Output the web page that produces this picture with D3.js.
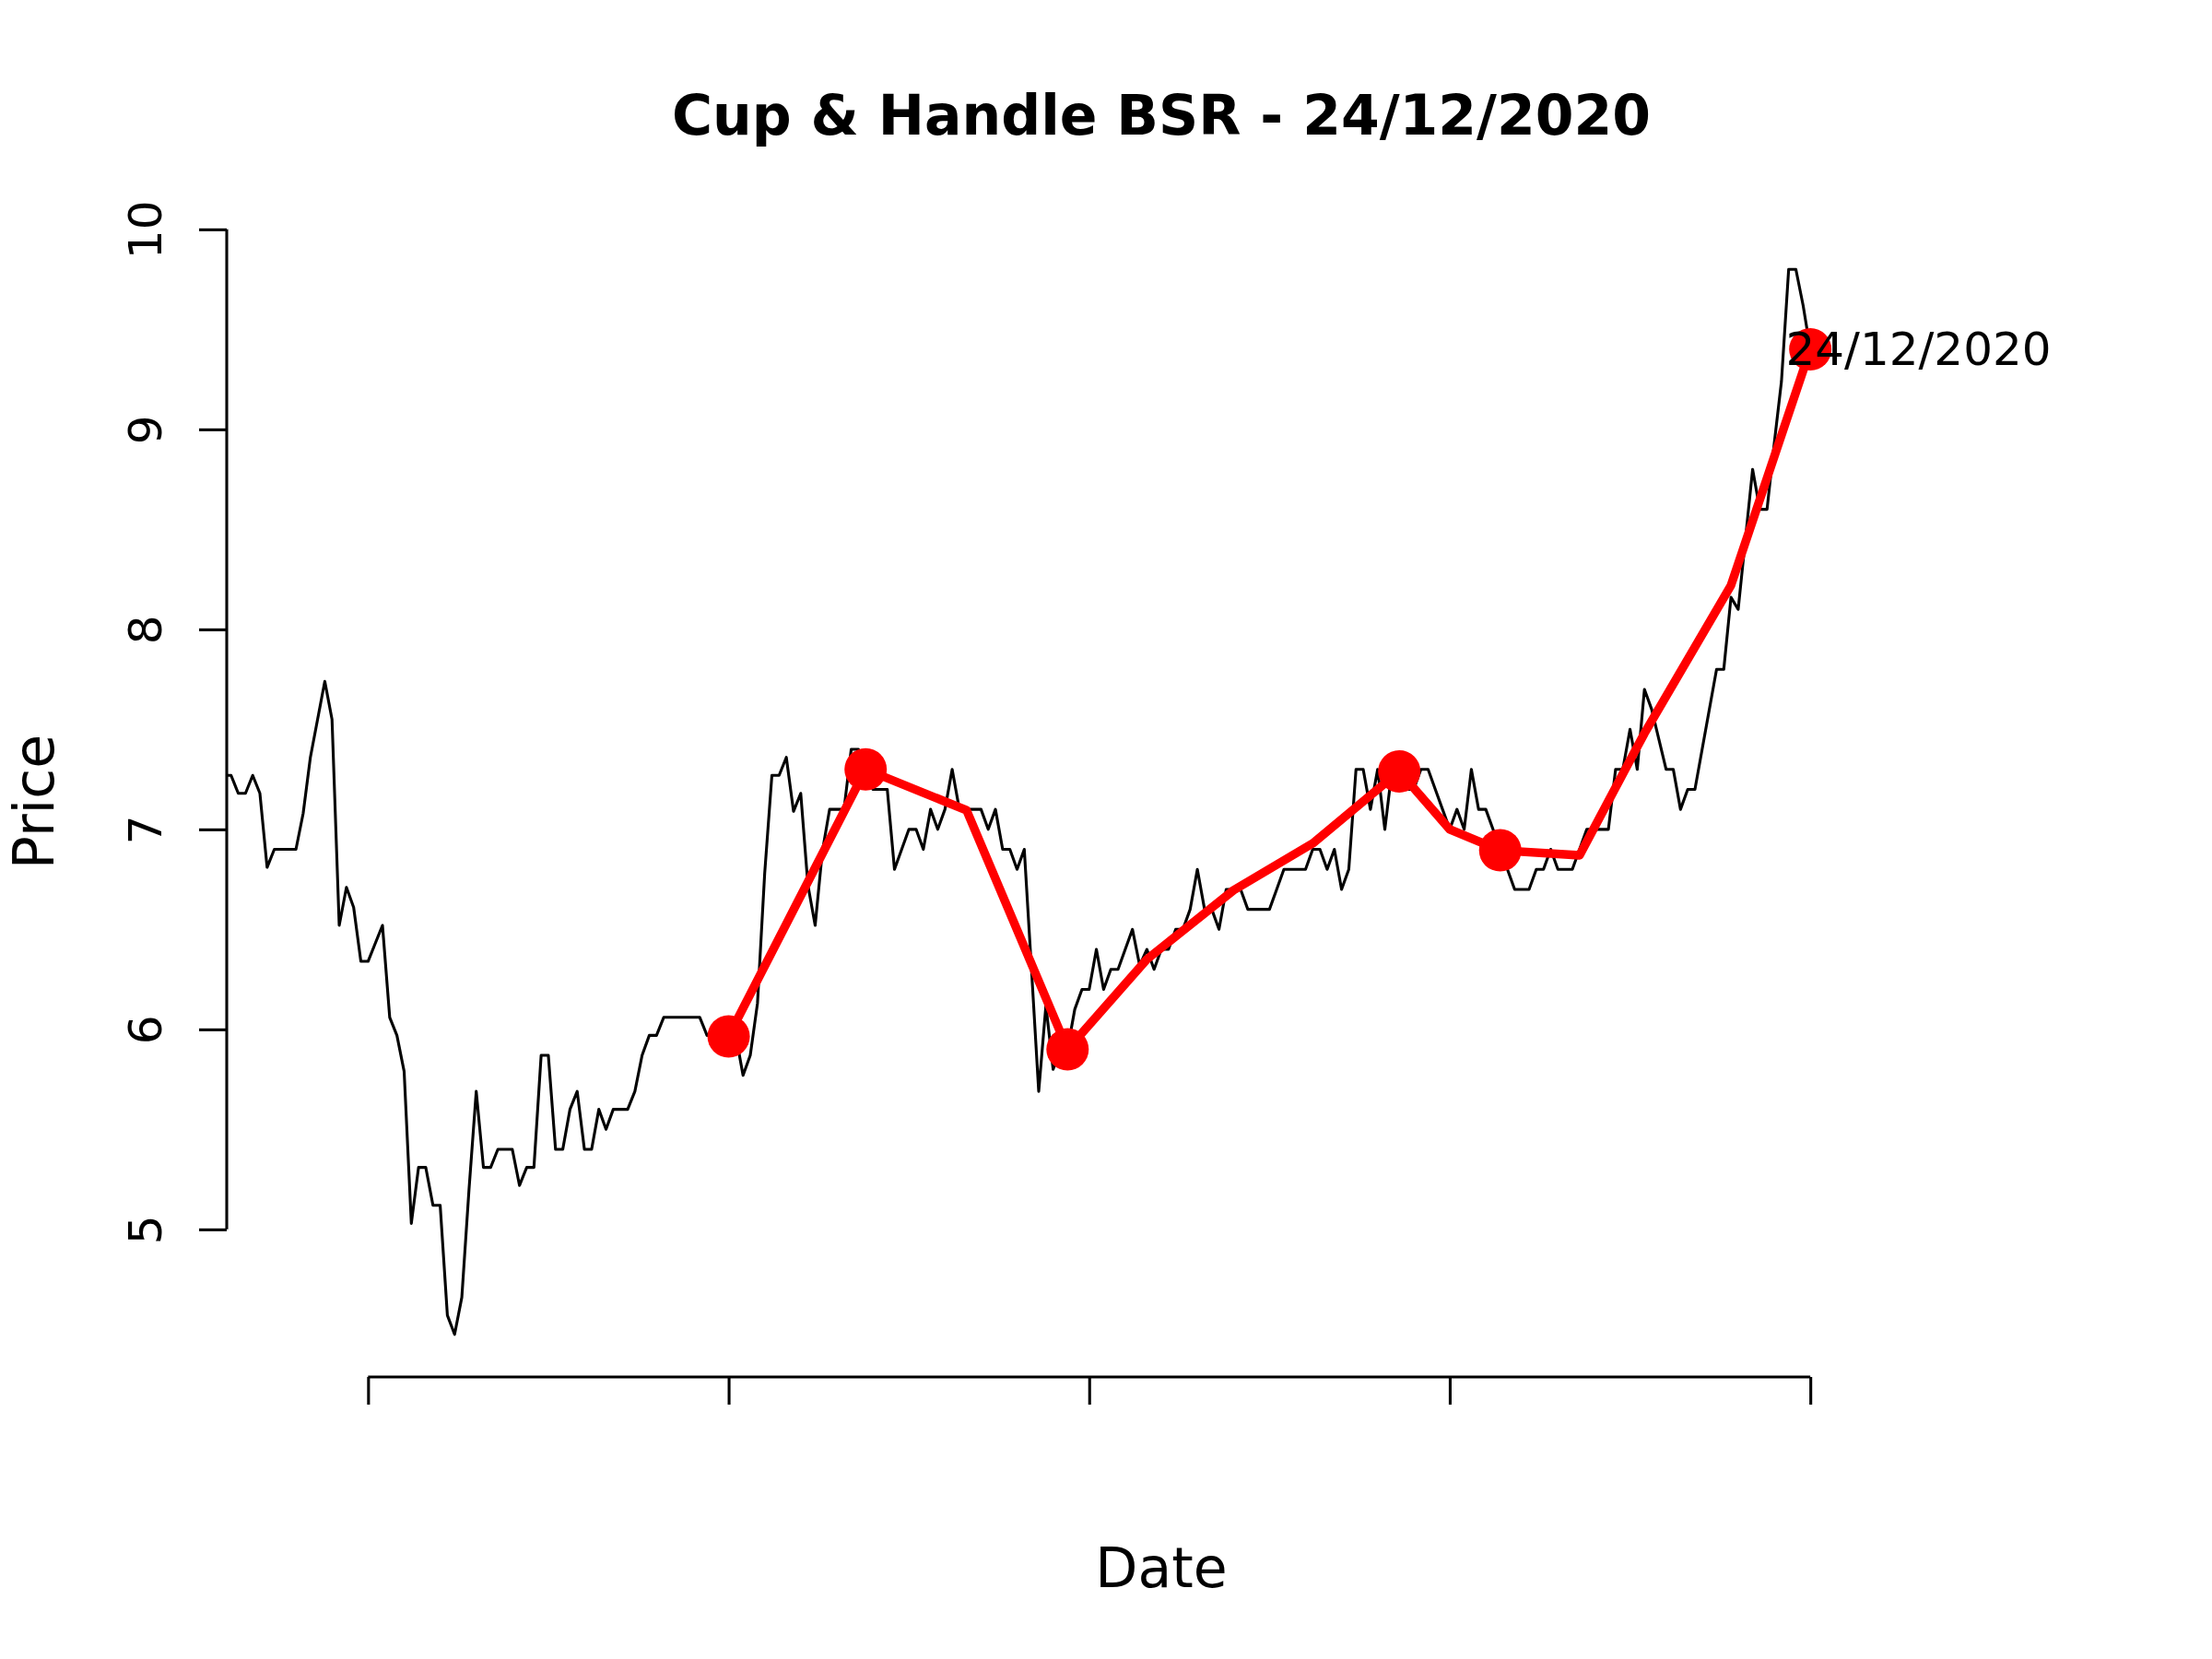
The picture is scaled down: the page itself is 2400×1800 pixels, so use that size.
<!DOCTYPE html>
<html>
<head>
<meta charset="utf-8">
<style>
body { margin: 0; background: #fff; }
text { font-family: "DejaVu Sans", sans-serif; fill: #000; }
</style>
<script src="https://cdn.jsdelivr.net/npm/d3@7"></script>
</head>
<body>
<script>

// closing prices, one per trading day (index 0..220)
var prices = [
  7.27, 7.27, 7.18, 7.18, 7.27, 7.18, 6.81, 6.90, 6.90, 6.90,
  6.90, 7.08, 7.36, 7.55, 7.74, 7.55, 6.52, 6.71, 6.61, 6.34,
  6.34, 6.43, 6.52, 6.06, 5.97, 5.79, 5.03, 5.31, 5.31, 5.12,
  5.12, 4.57, 4.475, 4.66, 5.20, 5.69, 5.31, 5.31, 5.40, 5.40,
  5.40, 5.22, 5.31, 5.31, 5.87, 5.87, 5.40, 5.40, 5.60, 5.69,
  5.40, 5.40, 5.60, 5.50, 5.60, 5.60, 5.60, 5.69, 5.87, 5.97,
  5.97, 6.06, 6.06, 6.06, 6.06, 6.06, 6.06, 5.97, 5.97, 5.97,
  5.97, 5.97, 5.77, 5.87, 6.13, 6.78, 7.27, 7.27, 7.36, 7.09,
  7.18, 6.72, 6.52, 6.89, 7.10, 7.10, 7.10, 7.40, 7.40, 7.30,
  7.20, 7.20, 7.20, 6.80, 6.90, 7.00, 7.00, 6.90, 7.10, 7.00,
  7.10, 7.30, 7.10, 7.10, 7.10, 7.10, 7.00, 7.10, 6.90, 6.90,
  6.80, 6.90, 6.30, 5.69, 6.12, 5.80, 5.90, 5.90, 6.10, 6.20,
  6.20, 6.40, 6.20, 6.30, 6.30, 6.40, 6.50, 6.32, 6.40, 6.30,
  6.40, 6.40, 6.50, 6.50, 6.60, 6.80, 6.60, 6.60, 6.50, 6.70,
  6.70, 6.70, 6.60, 6.60, 6.60, 6.60, 6.70, 6.80, 6.80, 6.80,
  6.80, 6.90, 6.90, 6.80, 6.90, 6.70, 6.80, 7.30, 7.30, 7.10,
  7.30, 7.00, 7.30, 7.30, 7.20, 7.20, 7.30, 7.30, 7.20, 7.10,
  7.00, 7.10, 7.00, 7.30, 7.10, 7.10, 7.00, 6.90, 6.80, 6.70,
  6.70, 6.70, 6.80, 6.80, 6.90, 6.80, 6.80, 6.80, 6.90, 7.00,
  7.00, 7.00, 7.00, 7.30, 7.30, 7.50, 7.30, 7.70, 7.60, 7.45,
  7.30, 7.30, 7.10, 7.20, 7.20, 7.40, 7.60, 7.80, 7.80, 8.16,
  8.10, 8.45, 8.80, 8.60, 8.60, 8.93, 9.24, 9.80, 9.80, 9.62,
  9.40
];

// cup & handle outline
var patternIdx = [70, 89, 103, 117, 128, 140, 151, 163, 170, 177, 188, 197, 209, 220];
var patternVal = [5.965, 7.30, 7.095, 5.90, 6.35, 6.695, 6.93, 7.29, 7.00, 6.895, 6.87, 7.48, 8.22, 9.40];
var markedIdx = [70, 89, 117, 163, 177, 220];

var xlim = [10, 250],
    xTicks = [20, 70, 120, 170, 220],
    yTicks = [5, 6, 7, 8, 9, 10];

var title = "Cup & Handle BSR - 24/12/2020",
    lastLabel = "24/12/2020",
    labelIdx = 235;

var width = 2400,
    height = 1800,
    margin = {top: 246, right: 126, bottom: 306, left: 246};

var svg = d3.select("body").append("svg")
    .attr("width", width)
    .attr("height", height);

svg.append("rect")
    .attr("width", width)
    .attr("height", height)
    .attr("fill", "#fff");

// R style 4% padding on both axes
var xpad = (xlim[1] - xlim[0]) * 0.04;
var x = d3.scaleLinear()
    .domain([xlim[0] - xpad, xlim[1] + xpad])
    .range([margin.left, width - margin.right]);

var ymin = d3.min(prices), ymax = d3.max(prices),
    ypad = (ymax - ymin) * 0.04;
var y = d3.scaleLinear()
    .domain([ymin - ypad, ymax + ypad])
    .range([height - margin.bottom, margin.top]);

svg.append("clipPath")
    .attr("id", "plot")
  .append("rect")
    .attr("x", margin.left)
    .attr("y", margin.top)
    .attr("width", width - margin.left - margin.right)
    .attr("height", height - margin.top - margin.bottom);

var plot = svg.append("g")
    .attr("clip-path", "url(#plot)");

plot.append("path")
    .datum(prices)
    .attr("fill", "none")
    .attr("stroke", "#000")
    .attr("stroke-width", 3.1)
    .attr("stroke-linejoin", "round")
    .attr("d", d3.line()
      .x(function(d, i) { return x(i); })
      .y(function(d) { return y(d); }));

plot.append("path")
    .datum(patternIdx)
    .attr("fill", "none")
    .attr("stroke", "#ff0000")
    .attr("stroke-width", 9.4)
    .attr("stroke-linejoin", "round")
    .attr("d", d3.line()
      .x(function(d) { return x(d); })
      .y(function(d, i) { return y(patternVal[i]); }));

plot.selectAll("circle")
    .data(markedIdx)
  .enter().append("circle")
    .attr("cx", function(d) { return x(d); })
    .attr("cy", function(d) { return y(patternVal[patternIdx.indexOf(d)]); })
    .attr("r", 23)
    .attr("fill", "#ff0000");

plot.append("text")
    .attr("x", x(labelIdx))
    .attr("y", y(prices[prices.length - 1]) + 17)
    .attr("text-anchor", "middle")
    .style("font-size", "50px")
    .text(lastLabel);

// axes, drawn like R: line only between first and last tick
var xAxis = d3.axisBottom(x)
    .tickValues(xTicks)
    .tickSize(30)
    .tickSizeOuter(0)
    .tickFormat("");

var gx = svg.append("g")
    .attr("transform", "translate(0," + (height - margin.bottom) + ")")
    .call(xAxis);
gx.select(".domain").remove();
gx.selectAll(".tick line").attr("stroke", "#000").attr("stroke-width", 3.1);
gx.append("line")
    .attr("x1", x(xTicks[0]))
    .attr("x2", x(xTicks[xTicks.length - 1]))
    .attr("stroke", "#000")
    .attr("stroke-width", 3.1);

var yAxis = d3.axisLeft(y)
    .tickValues(yTicks)
    .tickSize(30)
    .tickSizeOuter(0)
    .tickFormat(d3.format("d"));

var gy = svg.append("g")
    .attr("transform", "translate(" + margin.left + ",0)")
    .call(yAxis);
gy.select(".domain").remove();
gy.selectAll(".tick line").attr("stroke", "#000").attr("stroke-width", 3.1);
gy.selectAll(".tick text")
    .attr("x", null)
    .attr("dy", null)
    .attr("text-anchor", "middle")
    .attr("transform", "translate(-71,0) rotate(-90)")
    .style("font-family", "DejaVu Sans")
    .style("font-size", "50px")
    .attr("fill", "#000");
gy.append("line")
    .attr("y1", y(yTicks[0]))
    .attr("y2", y(yTicks[yTicks.length - 1]))
    .attr("stroke", "#000")
    .attr("stroke-width", 3.1);

svg.append("text")
    .attr("x", (margin.left + width - margin.right) / 2)
    .attr("y", 146)
    .attr("text-anchor", "middle")
    .style("font-size", "60px")
    .style("font-weight", "bold")
    .text(title);

svg.append("text")
    .attr("x", (margin.left + width - margin.right) / 2)
    .attr("y", 1722)
    .attr("text-anchor", "middle")
    .style("font-size", "60px")
    .text("Date");

svg.append("text")
    .attr("transform", "translate(58," + ((margin.top + height - margin.bottom) / 2) + ") rotate(-90)")
    .attr("text-anchor", "middle")
    .style("font-size", "60px")
    .text("Price");

</script>
</body>
</html>
